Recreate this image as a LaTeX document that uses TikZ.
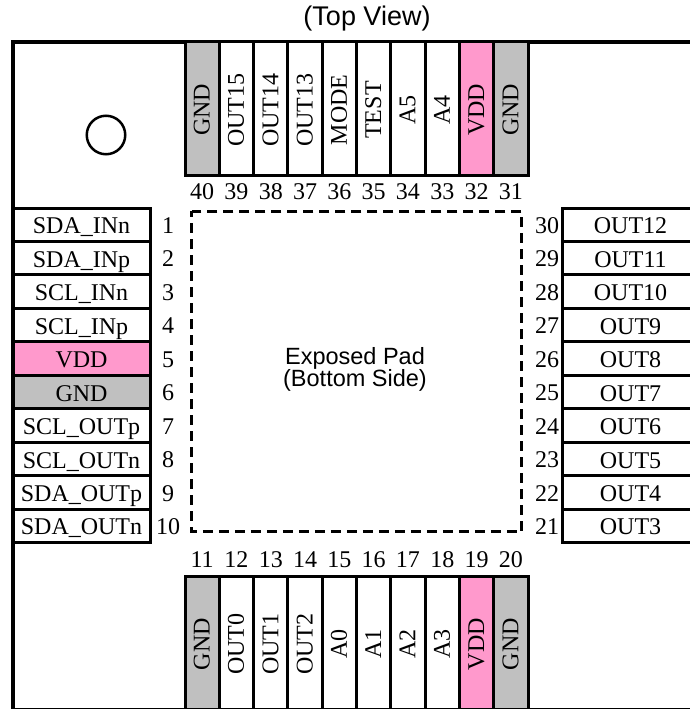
\documentclass[tikz,border=0pt]{standalone}
\usepackage{fontspec}
\setmainfont{Liberation Serif}
\newfontfamily\capfont{Liberation Sans}
\definecolor{pinkpin}{HTML}{FF99CC}
\definecolor{graypin}{HTML}{C0C0C0}
\newcommand{\pinfont}{\fontsize{24}{24}\selectfont}
\newcommand{\numfont}{\fontsize{24}{24}\selectfont}
\newcommand{\capsize}{\capfont\fontsize{23.5}{22}\selectfont}
\tikzset{
  x=1pt,y=-1pt,
  hpin/.style={draw=black,line width=3pt,minimum width=137pt,minimum height=33.47pt,inner sep=0pt,outer sep=0pt,font=\pinfont,text height=19pt,text depth=1pt},
  vpin/.style={draw=black,line width=3pt,minimum width=34.3pt,minimum height=133pt,inner sep=0pt,outer sep=0pt,font=\pinfont},
  vtext/.style={rotate=90,inner sep=0pt,font=\pinfont,text height=15pt,text depth=0pt,yshift=0pt,xshift=-1.5pt},
  num/.style={inner sep=0pt,font=\numfont},
  caption/.style={inner sep=0pt,align=center,font=\capsize},
  padline/.style={line width=3pt,dash pattern=on 10pt off 6pt,dash phase=4pt},
  frameline/.style={line width=3.5pt}
}
\begin{document}
\begin{tikzpicture}
\useasboundingbox (0,0) rectangle (689,709);
% package outline
\coordinate (fa) at (695,42);
\coordinate (fb) at (13,42);
\coordinate (fc) at (13,709.5);
\coordinate (fd) at (695,709.5);
\draw[frameline] (fa) -- (fb) -- (fc) -- (fd);
% left pins
\foreach \n/\t/\c in {1/SDA\_INn/white,2/SDA\_INp/white,3/SCL\_INn/white,4/SCL\_INp/white,5/VDD/pinkpin,6/GND/graypin,7/SCL\_OUTp/white,8/SCL\_OUTn/white,9/SDA\_OUTp/white,10/SDA\_OUTn/white}{
  \node[hpin,fill=\c] (p\n) at (81.5,{208+33.47*(\n-0.5)}) {\t};
  \node[num] (n\n) at (168,{208.7+33.47*(\n-0.5)}) {\n};
}
% right pins
\foreach \n/\t in {30/OUT12,29/OUT11,28/OUT10,27/OUT9,26/OUT8,25/OUT7,24/OUT6,23/OUT5,22/OUT4,21/OUT3}{
  \node[hpin,fill=white] (p\n) at (630.5,{208+33.47*(30-\n+0.5)}) {\t};
  \node[num] (n\n) at (547,{208.7+33.47*(30-\n+0.5)}) {\n};
}
% top pins
\foreach \n/\t/\c in {40/GND/graypin,39/OUT15/white,38/OUT14/white,37/OUT13/white,36/MODE/white,35/TEST/white,34/A5/white,33/A4/white,32/VDD/pinkpin,31/GND/graypin}{
  \node[vpin,fill=\c] (p\n) at ({185+34.3*(40-\n+0.5)},108.5) {};
  \node[vtext] (t\n) at (p\n.center) {\t};
  \node[num] (n\n) at (p\n.center |- 0,192) {\n};
}
% bottom pins
\foreach \n/\t/\c in {11/GND/graypin,12/OUT0/white,13/OUT1/white,14/OUT2/white,15/A0/white,16/A1/white,17/A2/white,18/A3/white,19/VDD/pinkpin,20/GND/graypin}{
  \node[vpin,fill=\c] (p\n) at ({185+34.3*(\n-11+0.5)},642.5) {};
  \node[vtext] (t\n) at (p\n.center) {\t};
  \node[num] (n\n) at (p\n.center |- 0,560) {\n};
}
% exposed pad
\coordinate (pa) at (191.5,211);
\coordinate (pb) at (521.7,531.7);
\draw[padline] (pa) rectangle (pb);
\node[caption] (pad) at (355,369.5) {Exposed Pad\\(Bottom Side)};
\node[caption,font=\capfont\fontsize{27}{27}\selectfont] (view) at (367,19) {(Top View)};
\node[draw=black,line width=2.5pt,circle,minimum size=38.5pt,inner sep=0pt] (mark) at (106,135) {};
\end{tikzpicture}
\end{document}
